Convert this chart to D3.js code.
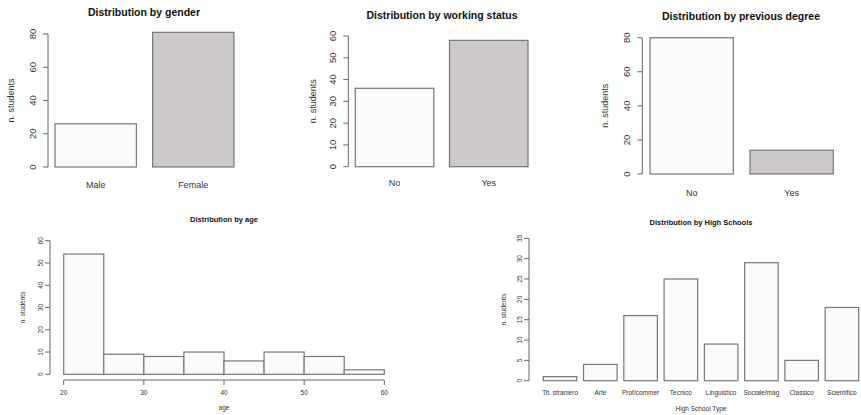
<!DOCTYPE html>
<html>
<head>
<meta charset="utf-8">
<script src="https://cdn.jsdelivr.net/npm/d3@7"></script>
<style>
	body { margin: 0; background: #fff; }
	svg { display: block; font-family: "Liberation Sans", Arial, sans-serif; }
</style>
</head>
<body>
<div id="chart"></div>
<script>
// data
var gender_cats = ['Male', 'Female'],
	gender_vals = [26, 81],
	gender_ticks = [0, 20, 40, 60, 80]

var work_cats = ['No', 'Yes'],
	work_vals = [36, 58],
	work_ticks = [0, 10, 20, 30, 40, 50, 60]

var degree_cats = ['No', 'Yes'],
	degree_vals = [80, 14],
	degree_ticks = [0, 20, 40, 60, 80]

var age_breaks = [20, 25, 30, 35, 40, 45, 50, 55, 60],
	age_counts = [54, 9, 8, 10, 6, 10, 8, 2],
	age_xticks = [20, 30, 40, 50, 60],
	age_yticks = [0, 10, 20, 30, 40, 50, 60]

var school_cats = ['Tit. straniero', 'Arte', 'Prof/commer', 'Tecnico', 'Linguistico', 'Sociale/mag', 'Classico', 'Scientifico'],
	school_vals = [1, 4, 16, 25, 9, 29, 5, 18],
	school_ticks = [0, 5, 10, 15, 20, 25, 30, 35]

var two_fills = ['#fdfafa', '#cdc9c9'],
	axis_col = '#666',
	text_col = '#333'

var svg = d3.select('#chart').append('svg')
	.attr('width', 861)
	.attr('height', 415)

function yAxis(g, y, ticks, x0, labelX, size) {
	g.append('line')
		.attr('x1', x0).attr('x2', x0)
		.attr('y1', y(ticks[0])).attr('y2', y(ticks[ticks.length - 1]))
		.attr('stroke', axis_col)
	ticks.forEach(function(t) {
		g.append('line')
			.attr('x1', x0 - 5).attr('x2', x0)
			.attr('y1', y(t)).attr('y2', y(t))
			.attr('stroke', axis_col)
		g.append('text')
			.attr('transform', 'translate(' + labelX + ',' + y(t) + ') rotate(-90)')
			.attr('text-anchor', 'middle')
			.attr('dy', '0.35em')
			.attr('font-size', size)
			.attr('fill', text_col)
			.text(t)
	})
}

// cfg: pixel layout of one barplot panel
function barPanel(cfg) {
	var g = svg.append('g')
	var n = cfg.cats.length
	// R barplot units: bar i spans [0.2 + 1.2i, 1.2 + 1.2i]
	var x = d3.scaleLinear().domain([0.2, 1.2 * n]).range([cfg.left, cfg.right])
	var y = d3.scaleLinear().domain([0, cfg.ticks[cfg.ticks.length - 1]]).range([cfg.bottom, cfg.top])

	g.selectAll('rect').data(cfg.vals).enter().append('rect')
		.attr('x', function(d, i) { return x(0.2 + 1.2 * i) })
		.attr('width', function(d, i) { return x(1.2 + 1.2 * i) - x(0.2 + 1.2 * i) })
		.attr('y', function(d) { return y(d) })
		.attr('height', function(d) { return y(0) - y(d) })
		.attr('fill', function(d, i) { return cfg.fills[i % cfg.fills.length] })
		.attr('stroke', '#777')
		.attr('stroke-width', 1.2)

	g.selectAll('.cat').data(cfg.cats).enter().append('text')
		.attr('x', function(d, i) { return x(0.7 + 1.2 * i) })
		.attr('y', cfg.catY)
		.attr('text-anchor', 'middle')
		.attr('font-size', cfg.catSize)
		.attr('fill', text_col)
		.text(function(d) { return d })

	yAxis(g, y, cfg.ticks, cfg.axisX, cfg.tickLabelX, cfg.tickSize)

	g.append('text')
		.attr('transform', 'translate(' + cfg.ylabX + ',' + y(cfg.ticks[cfg.ticks.length - 1] / 2) + ') rotate(-90)')
		.attr('text-anchor', 'middle')
		.attr('font-size', cfg.ylabSize)
		.attr('fill', text_col)
		.text('n. students')

	g.append('text')
		.attr('x', cfg.titleX)
		.attr('y', cfg.titleY)
		.attr('text-anchor', 'middle')
		.attr('font-size', cfg.titleSize)
		.attr('font-weight', 'bold')
		.attr('fill', '#111')
		.text(cfg.title)

	if (cfg.xlab) {
		g.append('text')
			.attr('x', cfg.titleX)
			.attr('y', cfg.xlabY)
			.attr('text-anchor', 'middle')
			.attr('font-size', cfg.ylabSize)
			.attr('fill', text_col)
			.text(cfg.xlab)
	}
	return g
}

barPanel({
	cats: gender_cats, vals: gender_vals, ticks: gender_ticks, fills: two_fills,
	left: 55, right: 234, top: 34, bottom: 167,
	axisX: 48, tickLabelX: 33, tickSize: 9.5,
	catY: 188, catSize: 9, ylabX: 14, ylabSize: 9,
	title: 'Distribution by gender', titleX: 144, titleY: 16, titleSize: 10.5
})

barPanel({
	cats: work_cats, vals: work_vals, ticks: work_ticks, fills: two_fills,
	left: 355.3, right: 528, top: 36, bottom: 166.7,
	axisX: 348.3, tickLabelX: 333, tickSize: 9.5,
	catY: 186, catSize: 9, ylabX: 316, ylabSize: 9,
	title: 'Distribution by working status', titleX: 442, titleY: 19, titleSize: 10.5
})

barPanel({
	cats: degree_cats, vals: degree_vals, ticks: degree_ticks, fills: two_fills,
	left: 650, right: 833.3, top: 37.7, bottom: 174,
	axisX: 642.3, tickLabelX: 627, tickSize: 9.5,
	catY: 196, catSize: 9, ylabX: 608, ylabSize: 9,
	title: 'Distribution by previous degree', titleX: 741, titleY: 20, titleSize: 10.5
})

barPanel({
	cats: school_cats, vals: school_vals, ticks: school_ticks, fills: ['#fdfafa'],
	left: 543.3, right: 858.7, top: 238.3, bottom: 380.7,
	axisX: 529, tickLabelX: 520, tickSize: 6.5,
	catY: 395, catSize: 6.5, ylabX: 506, ylabSize: 6.5,
	title: 'Distribution by High Schools', titleX: 701, titleY: 225, titleSize: 7.5,
	xlab: 'High School Type', xlabY: 410.5
})

// age histogram
var hg = svg.append('g')
var hx = d3.scaleLinear().domain([20, 60]).range([63.7, 384.3])
var hy = d3.scaleLinear().domain([0, 60]).range([374.3, 240.7])

hg.selectAll('rect').data(age_counts).enter().append('rect')
	.attr('x', function(d, i) { return hx(age_breaks[i]) })
	.attr('width', function(d, i) { return hx(age_breaks[i + 1]) - hx(age_breaks[i]) })
	.attr('y', function(d) { return hy(d) })
	.attr('height', function(d) { return hy(0) - hy(d) })
	.attr('fill', '#fdfafa')
	.attr('stroke', '#777')
	.attr('stroke-width', 1.2)

yAxis(hg, hy, age_yticks, 50, 41, 6.5)

hg.append('line')
	.attr('x1', hx(20)).attr('x2', hx(60))
	.attr('y1', 380).attr('y2', 380)
	.attr('stroke', axis_col)
age_xticks.forEach(function(t) {
	hg.append('line')
		.attr('x1', hx(t)).attr('x2', hx(t))
		.attr('y1', 380).attr('y2', 385)
		.attr('stroke', axis_col)
	hg.append('text')
		.attr('x', hx(t)).attr('y', 394.5)
		.attr('text-anchor', 'middle')
		.attr('font-size', 6.5)
		.attr('fill', text_col)
		.text(t)
})

hg.append('text')
	.attr('transform', 'translate(25,' + hy(30) + ') rotate(-90)')
	.attr('text-anchor', 'middle')
	.attr('font-size', 6.5)
	.attr('fill', text_col)
	.text('n. students')

hg.append('text')
	.attr('x', 224).attr('y', 410)
	.attr('text-anchor', 'middle')
	.attr('font-size', 6.5)
	.attr('fill', text_col)
	.text('age')

hg.append('text')
	.attr('x', 224).attr('y', 222)
	.attr('text-anchor', 'middle')
	.attr('font-size', 7.5)
	.attr('font-weight', 'bold')
	.attr('fill', '#111')
	.text('Distribution by age')
</script>
</body>
</html>
